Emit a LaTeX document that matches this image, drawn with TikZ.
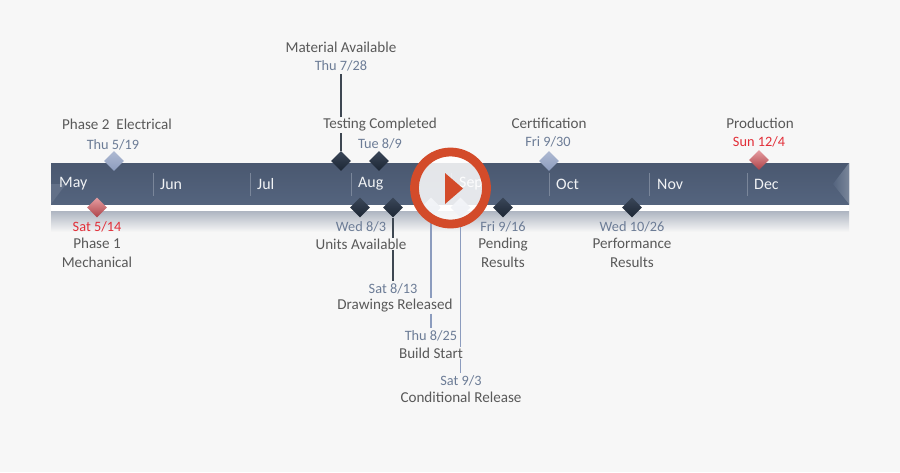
\documentclass[tikz,border=0pt]{standalone}
\usepackage{fontspec}
\setmainfont{Carlito}
\usetikzlibrary{shapes.geometric}
\definecolor{cpage}{RGB}{247,247,247}
\definecolor{cband}{RGB}{84,100,126}
\definecolor{cbandtop}{RGB}{74,88,112}
\definecolor{cstrip}{RGB}{174,181,193}
\definecolor{ctext}{RGB}{89,89,89}
\definecolor{cdate}{RGB}{108,124,150}
\definecolor{cred}{RGB}{226,46,56}
\definecolor{cplay}{RGB}{211,75,42}
\definecolor{cdarktop}{RGB}{58,70,88}
\definecolor{cdarkbot}{RGB}{28,38,52}
\definecolor{clight}{RGB}{140,156,190}
\tikzset{timeline/.style={x=0.03cm,y=-0.03cm,font=\fontsize{12.9}{15}\selectfont}}
\tikzset{mark base/.style={diamond,minimum size=20*0.03cm,inner sep=0pt,aspect=1},
         mdark/.style={mark base,top color=cdarktop,bottom color=cdarkbot},
         mlight/.style={mark base,top color=clight!70!white,bottom color=clight},
         mred/.style={mark base,top color=cred!45!white!90!gray,bottom color=cred!70!black!85!white},
         title/.style={text=ctext,align=center,inner sep=0.8pt},
         date/.style={text=cdate,inner sep=2pt,yshift=-0.03cm,font=\fontsize{12.2}{14}\selectfont},
         rdate/.style={text=cred,inner sep=2pt,yshift=-0.03cm,font=\fontsize{12.2}{14}\selectfont},
         month/.style={text=white!92!cband,anchor=west,inner sep=0pt,font=\fontsize{13.6}{15}\selectfont},
         sdark/.style={cdarkbot!85!white,line width=1.2pt},
         slight/.style={clight,line width=1pt}}

\begin{document}
\begin{tikzpicture}[timeline]
    \useasboundingbox (0,0) rectangle (900,472);
    \fill[cpage] (0,0) rectangle (900,472);
    \shade[top color=cstrip,bottom color=cpage] (51,211) rectangle (849,232);
    \fill[white] (51,204) rectangle (849,211);
    \shade[top color=cbandtop,bottom color=cband] (51,163) rectangle (849,204);
    \fill[cband!92!white] (51,204) -- (66,184) -- (51,184) -- cycle;    % end caps
    \shade[left color=cband,right color=cband!78!white] (833,184) -- (849,163) -- (849,204) -- cycle;
    \foreach \x/\m in {59/May,160/Jun,257/Jul,358/Aug,459/Sep,556/Oct,657/Nov,754/Dec}
      \node[month] (m\m) at (\x,184) {\m};
    \foreach \x in {153,250,351,451,549,649,747} \draw[white!22!cband,line width=0.7pt] (\x,173)--(\x,196);

    % above the band
    \node[mlight] (d519) at (114,161) {};
    \node[date] (t519) at (113,144) {Thu 5/19};
    \node[title] (n519) at (117,124.5) {Phase 2\ \ Electrical};
    \node[mdark] (d728) at (341,161) {};
    \node[date] (t728) at (341,65) {Thu 7/28};
    \node[title] (n728) at (341,47) {Material Available};
    \node[mdark] (d809) at (379,161) {};
    \node[date] (t809) at (380,143) {Tue 8/9};
    \node[title] (n809) at (380,125) {Testing Completed};
    \node[mlight] (d930) at (549,161) {};
    \node[date] (t930) at (548,141) {Fri 9/30};
    \node[title] (n930) at (549,123) {Certification};
    \node[mred] (d1204) at (759,160) {};
    \node[rdate] (t1204) at (759,141) {Sun 12/4};
    \node[title] (n1204) at (760,123) {Production};

    % below the band
    \node[mred] (d514) at (97,207.5) {};
    \node[rdate] (t514) at (97,226) {Sat 5/14};
    \node[title] (n514) at (97,253) {Phase 1\\[1pt]Mechanical};
    \node[mdark] (d803) at (360,207.5) {};
    \node[date] (t803) at (361,226) {Wed 8/3};
    \node[title] (n803) at (361,244) {Units Available};
    \node[mdark] (d813) at (393,207.5) {};
    \node[date] (t813) at (393,288) {Sat 8/13};
    \node[title] (n813) at (395,306) {Drawings Released};
    \node[mlight] (d825) at (431,207.5) {};
    \node[date] (t825) at (431,335) {Thu 8/25};
    \node[title] (n825) at (431,353) {Build Start};
    \node[mlight] (d903) at (460.5,207.5) {};
    \node[date] (t903) at (461,380) {Sat 9/3};
    \node[title] (n903) at (461,397) {Conditional Release};
    \node[mdark] (d916) at (503,207.5) {};
    \node[date] (t916) at (503,226) {Fri 9/16};
    \node[title] (n916) at (503,253) {Pending\\[1pt]Results};
    \node[mdark] (d1026) at (632,207.5) {};
    \node[date] (t1026) at (632,226) {Wed 10/26};
    \node[title] (n1026) at (632,253) {Performance\\[1pt]Results};

    % stems, broken where they meet a title
    \draw[sdark] (d728.north) -- (n809.south -| d728);
    \draw[sdark] (n809.north -| d728) -- (t728.south -| d728);
    \draw[sdark] (d813.south) -- (n803.north -| d813);
    \draw[sdark] (n803.south -| d813) -- (t813.north -| d813);
    \draw[slight] (d825.south) -- (n813.north -| d825);
    \draw[slight] (n813.south -| d825) -- (t825.north -| d825);
    \draw[slight] (d903.south) -- (n825.north -| d903);
    \draw[slight] (n825.south -| d903) -- (t903.north -| d903);

    % play button
    \node[circle,draw=cplay,line width=7.5pt,fill=white,fill opacity=0.85,draw opacity=1,minimum size=72*0.03cm,inner sep=0pt] (play) at (450.5,188) {};
    \fill[cplay] (445,173) -- (463,188.5) -- (445,204) -- cycle;
\end{tikzpicture}
\end{document}
